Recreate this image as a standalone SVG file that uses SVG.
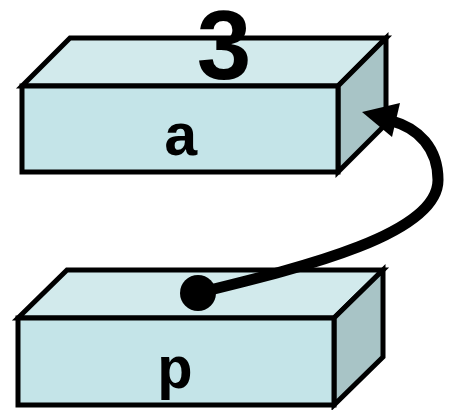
<svg xmlns="http://www.w3.org/2000/svg" width="450" height="410" viewBox="0 0 450 410">
<style>
.f{fill:#c4e4e8;stroke:#000;stroke-width:5;stroke-linejoin:miter}
.t{fill:#d2eaec;stroke:#000;stroke-width:5}
.s{fill:#a8c4c6;stroke:#000;stroke-width:5}
.lbl{font-family:"Liberation Mono","Courier New",monospace;font-weight:bold;font-size:60px;fill:#000;text-anchor:middle}
.num{font-family:"Liberation Sans",Arial,sans-serif;font-weight:bold;font-size:98px;fill:#000;text-anchor:middle}
</style>
<g id="a">
<polygon class="t" points="22,86 70,38 386,38 338,86"/>
<polygon class="s" points="338,86 386,38 386,124 338,172"/>
<rect class="f" x="22" y="86" width="316" height="86"/>
<text class="lbl" x="181" y="155">a</text>
<text class="num" x="224" y="79">3</text>
</g>
<g id="p">
<polygon class="t" points="18,318 67,270 383,270 334,318"/>
<polygon class="s" points="334,318 383,270 383,357 334,405"/>
<rect class="f" x="18" y="318" width="316" height="87"/>
<text class="lbl" x="175" y="388">p</text>
</g>
<g id="connectors">
<path d="M198,293 C300,268 438,235 438,180 C438,148 418,128 392,121" fill="none" stroke="#000" stroke-width="11"/>
<polygon points="362,112 400,103 392,137" fill="#000"/>
<circle cx="198" cy="293" r="18" fill="#000"/>
</g>
</svg>
